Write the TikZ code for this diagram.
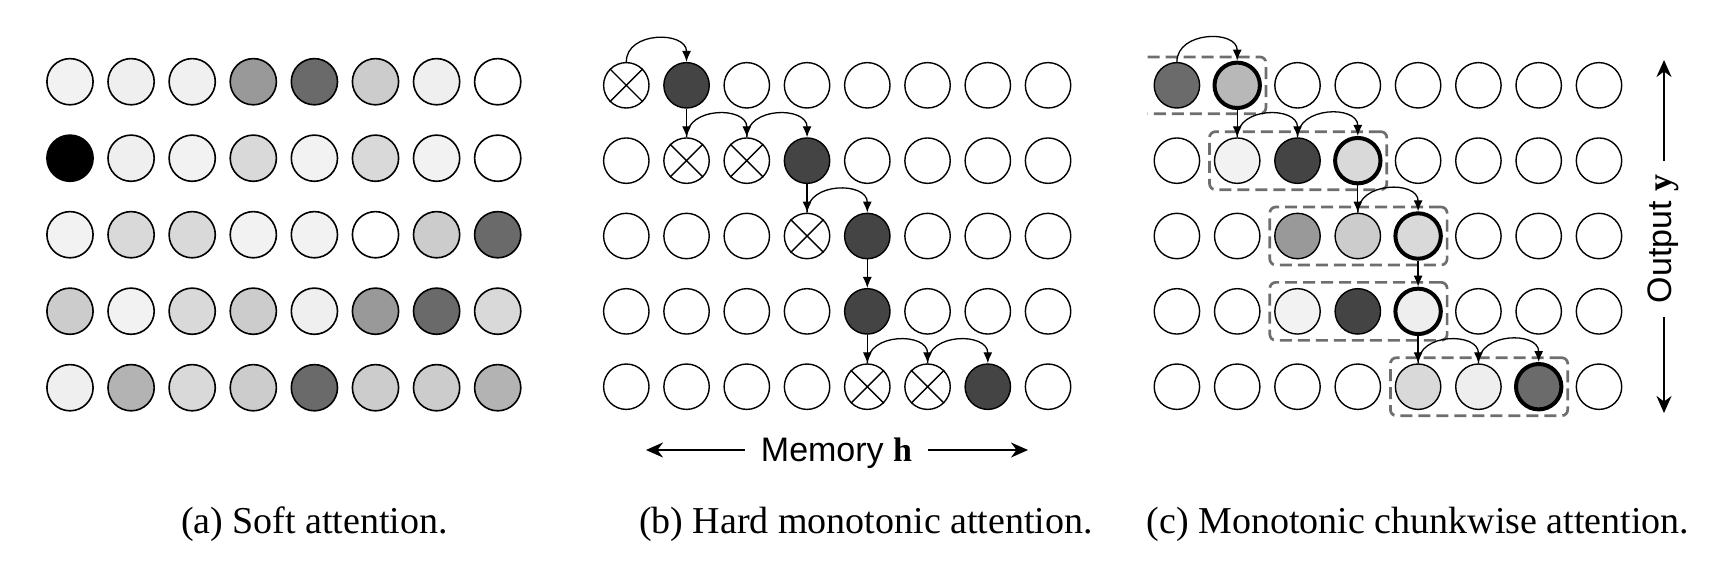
\documentclass[tikz,border=0pt]{standalone}
\usepackage[no-math]{fontspec}
\setmainfont{Liberation Serif}
\newfontfamily\helv{Liberation Sans}
\usetikzlibrary{arrows.meta,fit,calc}
\definecolor{boxgray}{HTML}{6E6E6E}
\begin{document}
\begin{tikzpicture}[x=1pt, y=-1pt,
  dot/.style={circle, draw=black, line width=1.4pt, inner sep=0pt, minimum size=45.4pt, fill=white},
  adot/.style={dot, minimum size=46.2pt, line width=1.6pt},
  arr/.style={line width=1.3pt, -{Latex[length=11pt, width=9pt]}},
  bigarr/.style={line width=2pt, -{Stealth[length=17pt, width=15pt]}},
  chunk/.style={draw=boxgray, line width=2.7pt, dash pattern=on 12pt off 6pt, rounded corners=6pt},
  lbl/.style={font=\helv\fontsize{34}{40}\selectfont},
  captext/.style={font=\fontsize{38}{46}\selectfont, anchor=base},
]
\useasboundingbox (0,0) rectangle (1734,566);

% ---------- (a) soft attention ----------
\foreach \row [count=\j] in {
 {F2F2F2,EFEFEF,F0F0F0,999999,6A6A6A,CCCCCC,EFEFEF,FFFFFF},
 {000000,EFEFEF,F2F2F2,D9D9D9,F2F2F2,D9D9D9,F2F2F2,FFFFFF},
 {F2F2F2,D9D9D9,D9D9D9,F2F2F2,F2F2F2,FFFFFF,CCCCCC,6A6A6A},
 {CCCCCC,F2F2F2,D9D9D9,CCCCCC,EFEFEF,999999,6A6A6A,D9D9D9},
 {EFEFEF,B3B3B3,D9D9D9,CCCCCC,6A6A6A,CCCCCC,CCCCCC,B3B3B3}}
 \foreach \c [count=\i] in \row {
   \definecolor{cur}{HTML}{\c}
   \node[adot, fill=cur] (a-\j-\i) at ({70+61.1*(\i-1)},{81.7+76.5*(\j-1)}) {};
 }

% ---------- (b) hard monotonic attention ----------
\foreach \row [count=\j] in {
 {FFFFFF,444444,FFFFFF,FFFFFF,FFFFFF,FFFFFF,FFFFFF,FFFFFF},
 {FFFFFF,FFFFFF,FFFFFF,444444,FFFFFF,FFFFFF,FFFFFF,FFFFFF},
 {FFFFFF,FFFFFF,FFFFFF,FFFFFF,444444,FFFFFF,FFFFFF,FFFFFF},
 {FFFFFF,FFFFFF,FFFFFF,FFFFFF,444444,FFFFFF,FFFFFF,FFFFFF},
 {FFFFFF,FFFFFF,FFFFFF,FFFFFF,FFFFFF,FFFFFF,444444,FFFFFF}}
 \foreach \c [count=\i] in \row {
   \definecolor{cur}{HTML}{\c}
   \node[dot, fill=cur] (b-\j-\i) at ({626.3+60.25*(\i-1)},{85.3+75.35*(\j-1)}) {};
 }
\foreach \n in {b-1-1,b-2-2,b-2-3,b-3-4,b-5-5,b-5-6}
  \draw[line width=1.4pt] (\n.45) -- (\n.225) (\n.135) -- (\n.315);

\draw[arr] (b-1-1.north) .. controls +(0,-31) and +(0,-31) .. (b-1-2.north);
\draw[arr] (b-1-2.south) -- (b-2-2.north);
\draw[arr] (b-2-2.north) .. controls +(0,-31) and +(0,-31) .. (b-2-3.north);
\draw[arr] (b-2-3.north) .. controls +(0,-31) and +(0,-31) .. (b-2-4.north);
\draw[arr] (b-2-4.south) -- (b-3-4.north);
\draw[arr] (b-3-4.north) .. controls +(0,-31) and +(0,-31) .. (b-3-5.north);
\draw[arr] (b-3-5.south) -- (b-4-5.north);
\draw[arr] (b-4-5.south) -- (b-5-5.north);
\draw[arr] (b-5-5.north) .. controls +(0,-31) and +(0,-31) .. (b-5-6.north);
\draw[arr] (b-5-6.north) .. controls +(0,-31) and +(0,-31) .. (b-5-7.north);

\node[lbl, anchor=base, inner xsep=16pt] (mem) at (836.5,461) {Memory {\rmfamily\bfseries h}};
\coordinate (mL) at (646,450);
\coordinate (mR) at (1028,450);
\draw[bigarr] (mem.west |- mL) -- (mL);
\draw[bigarr] (mem.east |- mR) -- (mR);

% ---------- (c) monotonic chunkwise attention ----------
\foreach \row [count=\j] in {
 {6B6B6B/1.4,B8B8B8/4,FFFFFF/1.4,FFFFFF/1.4,FFFFFF/1.4,FFFFFF/1.4,FFFFFF/1.4,FFFFFF/1.4},
 {FFFFFF/1.4,F2F2F2/1.4,444444/1.4,D9D9D9/4,FFFFFF/1.4,FFFFFF/1.4,FFFFFF/1.4,FFFFFF/1.4},
 {FFFFFF/1.4,FFFFFF/1.4,999999/1.4,CCCCCC/1.4,D9D9D9/4,FFFFFF/1.4,FFFFFF/1.4,FFFFFF/1.4},
 {FFFFFF/1.4,FFFFFF/1.4,F2F2F2/1.4,444444/1.4,EEEEEE/4,FFFFFF/1.4,FFFFFF/1.4,FFFFFF/1.4},
 {FFFFFF/1.4,FFFFFF/1.4,FFFFFF/1.4,FFFFFF/1.4,D9D9D9/1.4,EEEEEE/1.4,6B6B6B/4,FFFFFF/1.4}}
 \foreach \c/\w [count=\i] in \row {
   \definecolor{cur}{HTML}{\c}
   \node[dot, fill=cur, line width=\w pt] (c-\j-\i) at ({1176.9+60.3*(\i-1)},{85.3+75.35*(\j-1)}) {};
 }

\draw[chunk] ($(c-1-1.west |- c-1-1.north)+(-6,-5)$) -- ($(c-1-2.east |- c-1-1.north)+(4,-5)$)
  -- ($(c-1-2.east |- c-1-1.south)+(4,5)$) -- ($(c-1-1.west |- c-1-1.south)+(-6,5)$);
\node[chunk, fit=(c-2-2)(c-2-4), inner sep=4.3pt] (k2) {};
\node[chunk, fit=(c-3-3)(c-3-5), inner sep=4.3pt] (k3) {};
\node[chunk, fit=(c-4-3)(c-4-5), inner sep=4.3pt] (k4) {};
\node[chunk, fit=(c-5-5)(c-5-7), inner sep=4.3pt] (k5) {};

\draw[arr] (c-1-1.north) .. controls +(0,-31) and +(0,-31) .. (c-1-2.north);
\draw[arr] (c-1-2.south) -- (c-2-2.north);
\draw[arr] (c-2-2.north) .. controls +(0,-31) and +(0,-31) .. (c-2-3.north);
\draw[arr] (c-2-3.north) .. controls +(0,-31) and +(0,-31) .. (c-2-4.north);
\draw[arr] (c-2-4.south) -- (c-3-4.north);
\draw[arr] (c-3-4.north) .. controls +(0,-31) and +(0,-31) .. (c-3-5.north);
\draw[arr] (c-3-5.south) -- (c-4-5.north);
\draw[arr] (c-4-5.south) -- (c-5-5.north);
\draw[arr] (c-5-5.north) .. controls +(0,-31) and +(0,-31) .. (c-5-6.north);
\draw[arr] (c-5-6.north) .. controls +(0,-31) and +(0,-31) .. (c-5-7.north);

\node[lbl, rotate=90, anchor=base, inner xsep=14pt] (out) at (1671,239) {Output {\rmfamily\bfseries y}};
\coordinate (oT) at (1664,60);
\coordinate (oB) at (1664,413);
\draw[bigarr] (out.east -| oT) -- (oT);
\draw[bigarr] (out.west -| oB) -- (oB);

% ---------- captions ----------
\node[captext] (capa) at (314.5,533) {(a) Soft attention.};
\node[captext] (capb) at (866,533) {(b) Hard monotonic attention.};
\node[captext] (capc) at (1418,533) {(c) Monotonic chunkwise attention.};
\end{tikzpicture}
\end{document}
